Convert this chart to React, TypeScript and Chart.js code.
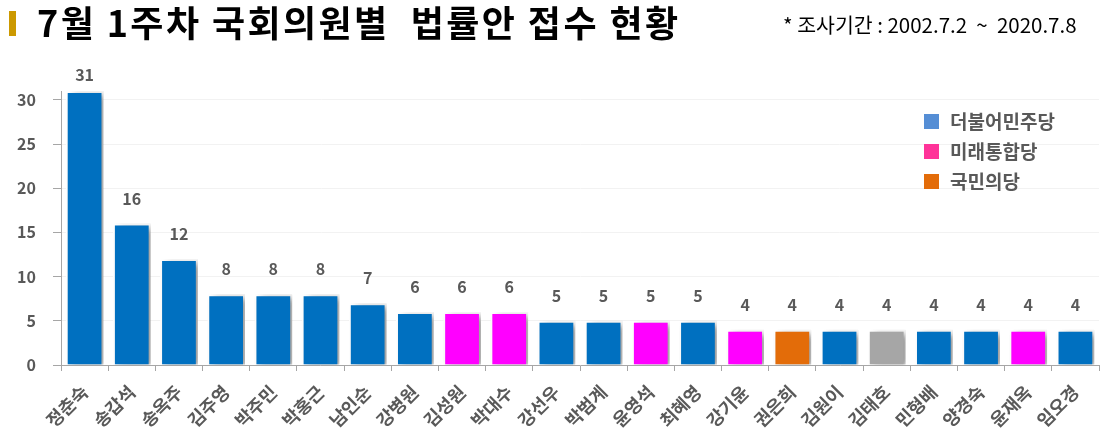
import React, { useEffect, useRef } from "react";
import { Chart, registerables } from "chart.js";

Chart.register(...registerables);

const names = ["정춘숙", "송갑석", "송옥주", "김주영", "박주민", "박홍근", "남인순", "강병원", "김성원", "박대수", "강선우", "박범계", "윤영석", "최혜영", "강기윤", "권은희", "김원이", "김태호", "민형배", "양경숙", "윤재옥", "임오경"];
const counts = [31, 16, 12, 8, 8, 8, 7, 6, 6, 6, 5, 5, 5, 5, 4, 4, 4, 4, 4, 4, 4, 4];
const parties = ["D", "D", "D", "D", "D", "D", "D", "D", "U", "U", "D", "D", "U", "D", "U", "P", "D", "I", "D", "D", "U", "D"];
const yTicks = [0, 5, 10, 15, 20, 25, 30];
const legendLabels = ["더불어민주당", "미래통합당", "국민의당"];

const barColors: Record<string, string> = { D: "#0070C0", U: "#FF00FF", P: "#E36C09", I: "#A6A6A6" };
const legendColors = ["#558ED5", "#FF3399", "#E36C09"];
const KR = '"Noto Sans CJK KR", "Noto Sans", sans-serif';

const decoPlugin = {
  id: "deco",
  beforeDatasetDraw(chart: any) {
    const ctx = chart.ctx;
    ctx.save();
    ctx.shadowColor = "rgba(0,0,0,0.4)";
    ctx.shadowBlur = 7;
    ctx.shadowOffsetX = 5;
    ctx.shadowOffsetY = 2;
  },
  afterDatasetDraw(chart: any) {
    chart.ctx.restore();
  },
  afterDraw(chart: any) {
    const ctx = chart.ctx;
    ctx.save();
    // title
    ctx.fillStyle = "#CC9900";
    ctx.fillRect(9, 11, 7, 25);
    ctx.fillStyle = "#000000";
    ctx.font = `bold 36px ${KR}`;
    ctx.textBaseline = "middle";
    ctx.textAlign = "left";
    (ctx as any).letterSpacing = "2.4px";
    ctx.fillText("7월 1주차 국회의원별  법률안 접수 현황", 37, 23);
    (ctx as any).letterSpacing = "0px";
    ctx.font = `20.5px ${KR}`;
    ctx.fillText("* 조사기간 : 2002.7.2  ~  2020.7.8", 783, 25);
    // data labels
    const meta = chart.getDatasetMeta(0);
    ctx.font = `bold 16px ${KR}`;
    ctx.fillStyle = "#595959";
    ctx.textAlign = "center";
    meta.data.forEach((bar: any, i: number) => {
      const y = Math.max(75, bar.y - 25);
      ctx.fillText(String(counts[i]), bar.x, y);
    });
    // legend
    ctx.font = `bold 19px ${KR}`;
    ctx.textAlign = "left";
    legendLabels.forEach((lab, i) => {
      const y = 121 + i * 30;
      ctx.fillStyle = legendColors[i];
      ctx.fillRect(924, y - 7, 15, 15);
      ctx.fillStyle = "#595959";
      ctx.fillText(lab, 950, y + 1);
    });
    ctx.restore();
  },
};

export default function App() {
  const ref = useRef<HTMLCanvasElement>(null);
  useEffect(() => {
    if (!ref.current) return;
    const chart = new Chart(ref.current, {
      type: "bar",
      data: {
        labels: names,
        datasets: [
          {
            data: counts,
            backgroundColor: parties.map((p) => barColors[p]),
            borderColor: "#FFFFFF",
            borderWidth: 2,
            barPercentage: 0.8,
            categoryPercentage: 1,
          },
        ],
      },
      options: {
        responsive: false,
        animation: false,
        layout: { padding: { top: 91, right: 10, left: 0, bottom: 0 } },
        plugins: { legend: { display: false }, tooltip: { enabled: false } },
        scales: {
          x: {
            offset: true,
            grid: { display: true, drawOnChartArea: false, offset: true, tickLength: 6, color: "#A6A6A6" },
            border: { color: "#A6A6A6" },
            ticks: {
              minRotation: 45,
              maxRotation: 45,
              autoSkip: false,
              padding: 10,
              color: "#595959",
              font: { family: KR, size: 18, weight: "bold" },
            },
            afterFit(scale: any) {
              scale.height = 81;
            },
          },
          y: {
            min: 0,
            max: 31,
            afterBuildTicks(scale: any) {
              scale.ticks = yTicks.map((v) => ({ value: v }));
            },
            grid: { color: "#F2F2F2", tickLength: 8, tickColor: "#A6A6A6" },
            border: { color: "#A6A6A6" },
            ticks: {
              padding: 17,
              color: "#595959",
              font: { family: KR, size: 16, weight: "bold" },
            },
            afterFit(scale: any) {
              scale.width = 61;
            },
          },
        },
      },
      plugins: [decoPlugin],
    } as any);
    return () => chart.destroy();
  }, []);
  return (
    <div style={{ position: "absolute", left: 0, top: 0, width: 1109, height: 446, background: "#fff" }}>
      <canvas ref={ref} width={1109} height={446} />
    </div>
  );
}
